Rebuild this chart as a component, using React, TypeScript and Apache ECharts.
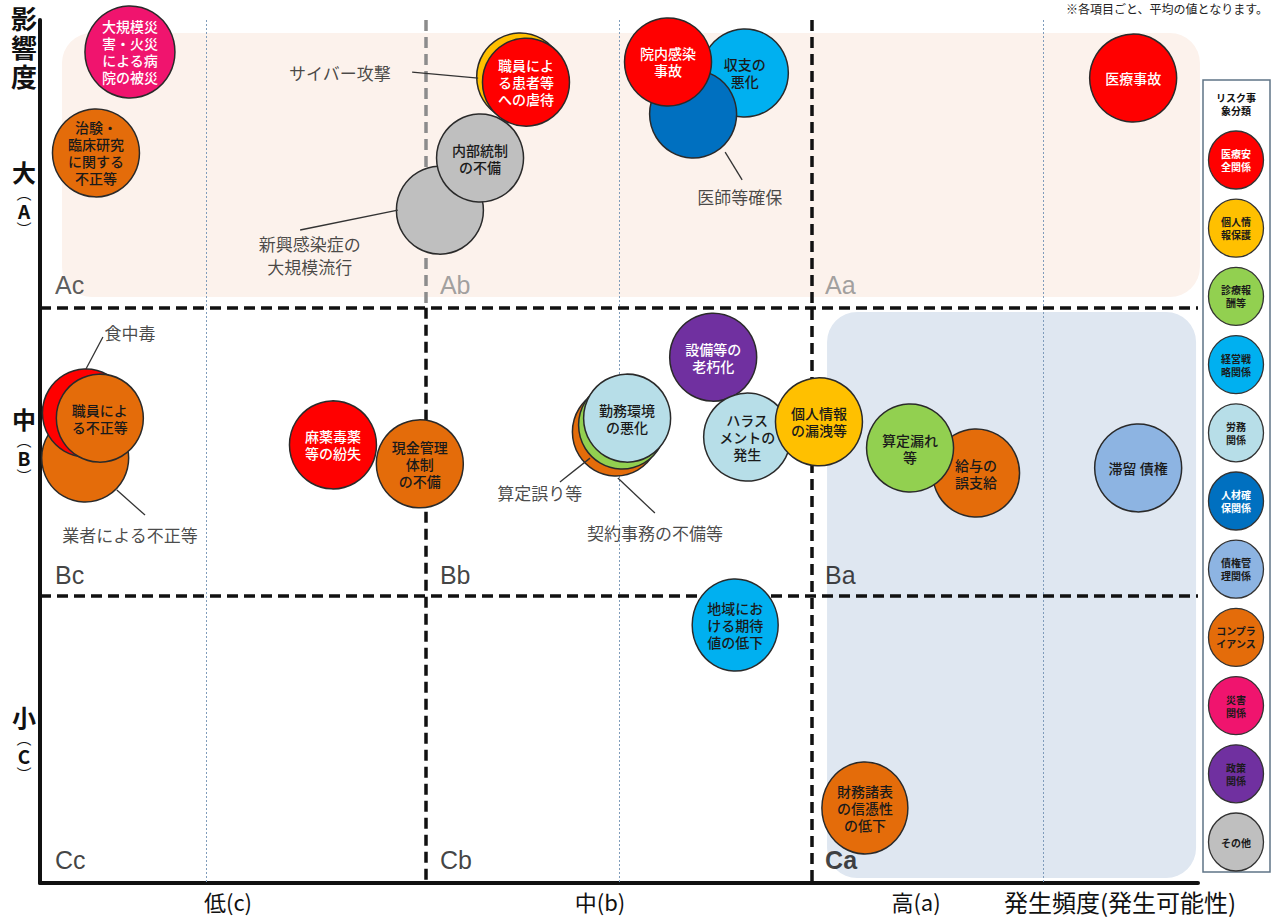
import React, { useEffect, useRef } from 'react';
import * as echarts from 'echarts';

// ---- categories (legend) ----
const categoryNames = ['医療安全関係', '個人情報保護', '診療報酬等', '経営戦略関係', '労務関係', '人材確保関係', '債権管理関係', 'コンプライアンス', '災害関係', '政策関係', 'その他'];
const categoryLegendLabels = ['医療安\n全関係', '個人情\n報保護', '診療報\n酬等', '経営戦\n略関係', '労務\n関係', '人材確\n保関係', '債権管\n理関係', 'コンプラ\nイアンス', '災害\n関係', '政策\n関係', 'その他'];
const categoryColors = ['#ff0000', '#ffc000', '#92d050', '#00b0f0', '#b7dee8', '#0070c0', '#8db4e2', '#e46c0a', '#f0146e', '#7030a0', '#bfbfbf'];
const bubbleTextColors = ['#ffffff', '#1a1a1a', '#1a1a1a', '#1a1a1a', '#1a1a1a', '#ffffff', '#1a1a1a', '#1a1a1a', '#ffffff', '#ffffff', '#1a1a1a'];
const legendTextColors = ['#ffffff', '#1a1a1a', '#1a1a1a', '#1a1a1a', '#1a1a1a', '#ffffff', '#1a1a1a', '#1a1a1a', '#1a1a1a', '#1a1a1a', '#1a1a1a'];

// ---- risks (drawn bottom to top) ----
const riskNames = ['大規模災害・火災による病院の被災', '治験・臨床研究に関する不正等', 'サイバー攻撃', '職員による患者等への虐待', '新興感染症の大規模流行', '内部統制の不備', '収支の悪化', '医師等確保', '院内感染事故', '医療事故', '業者による不正等', '食中毒', '職員による不正等', '麻薬毒薬等の紛失', '現金管理体制の不備', '契約事務の不備等', '算定誤り等', '勤務環境の悪化', '設備等の老朽化', 'ハラスメントの発生', '個人情報の漏洩等', '給与の誤支給', '算定漏れ等', '滞留債権', '地域における期待値の低下', '財務諸表の信憑性の低下'];
const riskInnerLabels = ['大規模災\n害・火災\nによる病\n院の被災', '治験・\n臨床研究\nに関する\n不正等', '', '職員によ\nる患者等\nへの虐待', '', '内部統制\nの不備', '収支の\n悪化', '', '院内感染\n事故', '医療事故', '', '', '職員によ\nる不正等', '麻薬毒薬\n等の紛失', '現金管理\n体制\nの不備', '', '', '勤務環境\nの悪化', '設備等の\n老朽化', 'ハラス\nメントの\n発生', '個人情報\nの漏洩等', '給与の\n誤支給', '算定漏れ\n等', '滞留 債権', '地域にお\nける期待\n値の低下', '財務諸表\nの信憑性\nの低下'];
const riskFrequency = [0.233, 0.145, 1.244, 1.259, 1.036, 1.140, 1.826, 1.692, 1.627, 2.832, 0.117, 0.119, 0.155, 0.759, 0.984, 1.492, 1.508, 1.521, 1.744, 1.832, 2.018, 2.425, 2.254, 2.845, 1.801, 2.137];
const riskImpact = [2.889, 2.538, 2.802, 2.784, 2.339, 2.520, 2.816, 2.673, 2.854, 2.798, 1.477, 1.634, 1.616, 1.523, 1.457, 1.568, 1.592, 1.616, 1.828, 1.550, 1.603, 1.425, 1.512, 1.443, 0.897, 0.261];
const riskCategory = [8, 7, 1, 0, 10, 10, 3, 5, 0, 0, 7, 0, 7, 0, 7, 7, 2, 4, 9, 4, 1, 7, 2, 6, 3, 7];

// ---- callout annotations ----
const annotationTexts = ['サイバー攻撃', '新興感染症の\n大規模流行', '医師等確保', '食中毒', '業者による不正等', '算定誤り等', '契約事務の不備等'];
const annotationX = [0.777, 0.699, 1.813, 0.233, 0.233, 1.295, 1.593];
const annotationY = [2.816, 2.183, 2.385, 1.915, 1.210, 1.356, 1.220];
const leaderFromX = [0.964, 0.674, 1.775, 0.163, 0.199, 1.347, 1.497];
const leaderFromY = [2.819, 2.270, 2.541, 1.898, 1.366, 1.394, 1.408];
const leaderToX = [1.135, 0.927, 1.819, 0.119, 0.272, 1.425, 1.593];
const leaderToY = [2.798, 2.339, 2.444, 1.787, 1.279, 1.477, 1.286];

// ---- zones ----
const zoneLabels = ['Ac', 'Ab', 'Aa', 'Bc', 'Bb', 'Ba', 'Cc', 'Cb', 'Ca'];
const zoneX = [0.039, 1.036, 2.034, 0.039, 1.036, 2.034, 0.039, 1.036, 2.034];
const zoneY = [2.079, 2.079, 2.079, 1.071, 1.071, 1.071, 0.080, 0.080, 0.080];
const zoneColors = ['#333333', '#8a8a8a', '#8a8a8a', '#111111', '#111111', '#111111', '#111111', '#111111', '#111111'];

// ---- background bands ----
const bandX0 = [0.057, 2.039];
const bandY0 = [2.037, 0.017];
const bandX1 = [3.005, 2.995];
const bandY1 = [2.955, 1.985];
const bandColors = ['#fcf2ec', '#dfe7f1'];

// ---- reference lines ----
const quadrantLines = [1, 2];
const dottedX = [0.43, 1.5, 2.6];
const dottedY = [0.3, 1.5, 2.7];

// ---- axis labels ----
const xAxisLabels = ['低(c)', '中(b)', '高(a)', '発生頻度(発生可能性)'];
const xAxisLabelCenters = [228, 600, 916, 1120];
const yAxisLevelChars = ['大', '中', '小'];
const yAxisLevelLetters = ['A', 'B', 'C'];
const yAxisGroupTop = [157, 404, 702];
const yTitle = '影\n響\n度';

const FONT = '"Noto Sans CJK JP", "Noto Sans", sans-serif';

export default function App() {
  const ref = useRef<HTMLDivElement>(null);
  useEffect(() => {
    if (!ref.current) return;
    const chart = echarts.init(ref.current, undefined, { renderer: 'svg' });

    const bubbleData = riskNames.map((n, i) => {
      const c = riskCategory[i];
      let size: number[] = [87, 88];
      if (i === 0) size = [90, 92];
      if (i === 24 || i === 25) size = [86, 92];
      return {
        name: n,
        value: [riskFrequency[i], riskImpact[i]],
        symbolSize: size,
        itemStyle: { color: categoryColors[c], borderColor: '#2a2a2a', borderWidth: 1.5, opacity: 1 },
        label: {
          show: riskInnerLabels[i] !== '',
          formatter: riskInnerLabels[i],
          color: bubbleTextColors[c],
        },
      };
    });

    const quadMarkData: any[] = [];
    quadrantLines.forEach((v) => {
      quadMarkData.push([{ coord: [0, v] }, { coord: [3, v] }]);
    });
    quadMarkData.push([{ coord: [1, 3], lineStyle: { color: '#8c8c8c' } }, { coord: [1, 2] }]);
    quadMarkData.push([{ coord: [1, 2] }, { coord: [1, 0] }]);
    quadMarkData.push([{ coord: [2, 3] }, { coord: [2, 0] }]);

    const dottedMarkData: any[] = [];
    dottedX.forEach((v) => dottedMarkData.push([{ coord: [v, 3] }, { coord: [v, 0] }]));
    dottedY.forEach((v) => dottedMarkData.push([{ coord: [0, v] }, { coord: [3.04, v] }]));

    const leaderData = annotationTexts.map((_, i) => [
      { coord: [leaderFromX[i], leaderFromY[i]] },
      { coord: [leaderToX[i], leaderToY[i]] },
    ]);

    const graphics: any[] = [];
    graphics.push({
      type: 'text', x: 24, y: 3,
      style: { text: yTitle, font: `bold 26px ${FONT}`, fill: '#111', align: 'center', verticalAlign: 'top', lineHeight: 29 },
    });
    yAxisLevelChars.forEach((ch, gi) => {
      graphics.push({
        type: 'text', x: 24, y: yAxisGroupTop[gi],
        style: {
          text: `{a|${ch}}\n{p|︵}\n{b|${yAxisLevelLetters[gi]}}\n{p|︶}`,
          align: 'center', verticalAlign: 'top', fill: '#111',
          rich: {
            a: { font: `bold 24px ${FONT}`, lineHeight: 28, align: 'center' },
            p: { font: `15px ${FONT}`, lineHeight: 14, align: 'center' },
            b: { font: `bold 19px ${FONT}`, lineHeight: 22, align: 'center' },
          },
        },
      });
    });
    xAxisLabels.forEach((t, i) => {
      graphics.push({
        type: 'text', x: xAxisLabelCenters[i], y: 901,
        style: { text: t, font: `${i === 3 ? 24 : 22}px ${FONT}`, fill: '#111', align: 'center', verticalAlign: 'middle' },
      });
    });
    graphics.push({
      type: 'text', x: 1268, y: 2,
      style: { text: '※各項目ごと、平均の値となります。', font: `12px ${FONT}`, fill: '#222', align: 'right', verticalAlign: 'top' },
    });
    graphics.push({
      type: 'rect', shape: { x: 1203, y: 80, width: 67, height: 792 },
      style: { fill: '#ffffff', stroke: '#5f7486', lineWidth: 1.5 }, z: 100,
    });
    graphics.push({
      type: 'text', x: 1236, y: 104, z: 101,
      style: { text: 'リスク事\n象分類', font: `bold 10px ${FONT}`, fill: '#111', align: 'center', verticalAlign: 'middle', lineHeight: 13 },
    });
    categoryNames.forEach((_, i) => {
      const cy = 160 + i * 68.2;
      graphics.push({
        type: 'ellipse', shape: { cx: 1236, cy, rx: 27.5, ry: 29 }, z: 101,
        style: { fill: categoryColors[i], stroke: '#333', lineWidth: 1.3 },
      });
      graphics.push({
        type: 'text', x: 1236, y: cy, z: 102,
        style: { text: categoryLegendLabels[i], font: `bold 10px ${FONT}`, fill: legendTextColors[i], align: 'center', verticalAlign: 'middle', lineHeight: 13 },
      });
    });

    chart.setOption({
      animation: false,
      grid: { left: 40, right: 76, top: 20, bottom: 36, containLabel: false },
      xAxis: {
        type: 'value', min: 0, max: 3,
        axisLine: { show: true, onZero: false, lineStyle: { color: '#111', width: 4 } },
        axisTick: { show: false }, axisLabel: { show: false }, splitLine: { show: false },
      },
      yAxis: {
        type: 'value', min: 0, max: 3,
        axisLine: { show: true, onZero: false, lineStyle: { color: '#111', width: 4 } },
        axisTick: { show: false }, axisLabel: { show: false }, splitLine: { show: false },
      },
      series: [
        {
          type: 'custom',
          name: 'bands',
          z: 1,
          silent: true,
          encode: { x: [0, 2], y: [1, 3] },
          data: bandX0.map((x0, i) => [x0, bandY0[i], bandX1[i], bandY1[i]]),
          renderItem: (params: any, api: any) => {
            const p0 = api.coord([api.value(0), api.value(3)]);
            const p1 = api.coord([api.value(2), api.value(1)]);
            return {
              type: 'rect',
              shape: { x: p0[0], y: p0[1], width: p1[0] - p0[0], height: p1[1] - p0[1], r: 30 },
              style: { fill: bandColors[params.dataIndex] },
            };
          },
        },
        {
          type: 'line',
          name: 'grid-lines',
          z: 2,
          data: [],
          silent: true,
          markLine: {
            z: 2,
            silent: true,
            symbol: 'none',
            label: { show: false },
            lineStyle: { color: '#7f9cbb', width: 1, type: [2, 2] },
            data: dottedMarkData,
          },
        },
        {
          type: 'line',
          name: 'quadrants',
          z: 3,
          data: [],
          silent: true,
          markLine: {
            z: 3,
            silent: true,
            symbol: 'none',
            label: { show: false },
            lineStyle: { color: '#111', width: 3.5, type: [11, 6] },
            data: quadMarkData,
          },
        },
        {
          type: 'scatter',
          name: 'risks',
          z: 10,
          symbol: 'circle',
          data: bubbleData,
          itemStyle: { opacity: 1 },
          label: {
            position: 'inside',
            fontFamily: FONT,
            fontSize: 14,
            fontWeight: 500,
            lineHeight: 17,
            align: 'center',
            verticalAlign: 'middle',
          },
          emphasis: { disabled: true },
        },
        {
          type: 'scatter',
          name: 'annotations',
          z: 12,
          symbolSize: 1,
          itemStyle: { color: 'rgba(0,0,0,0)' },
          data: annotationTexts.map((t, i) => ({ name: t, value: [annotationX[i], annotationY[i]] })),
          label: {
            show: true,
            position: 'inside',
            formatter: (p: any) => p.name,
            fontFamily: FONT,
            fontSize: 17,
            lineHeight: 23,
            color: '#1a1a1a',
            align: 'center',
            verticalAlign: 'middle',
          },
          markLine: {
            z: 12,
            silent: true,
            symbol: 'none',
            label: { show: false },
            lineStyle: { color: '#333', width: 1.3, type: 'solid' },
            data: leaderData,
          },
        },
        {
          type: 'scatter',
          name: 'zones',
          z: 12,
          symbolSize: 1,
          itemStyle: { color: 'rgba(0,0,0,0)' },
          data: zoneLabels.map((t, i) => ({
            name: t,
            value: [zoneX[i], zoneY[i]],
            label: { color: zoneColors[i], fontWeight: t === 'Ca' ? 'bold' : 'normal' },
          })),
          label: {
            show: true,
            position: 'inside',
            formatter: (p: any) => p.name,
            fontFamily: '"Liberation Sans", Arial, sans-serif',
            fontSize: 25,
            align: 'left',
            verticalAlign: 'middle',
          },
        },
      ],
      graphic: graphics,
    });

    return () => chart.dispose();
  }, []);

  return (
    <div
      ref={ref}
      style={{ position: 'absolute', left: 0, top: 0, width: 1274, height: 919, background: '#ffffff' }}
    />
  );
}
